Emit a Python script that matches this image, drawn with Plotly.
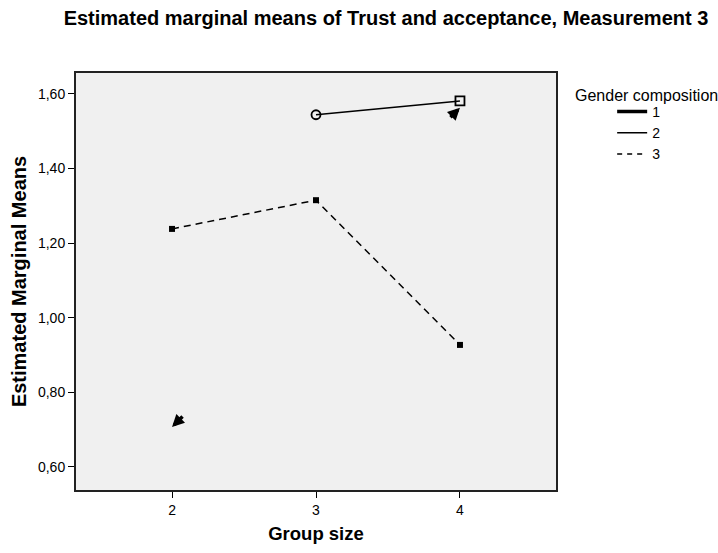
import plotly.graph_objects as go

group_size = [2, 3, 4]
gender_labels = ["1", "2", "3"]
means_1 = [0.707, None, 1.563]
means_2 = [None, 1.544, 1.581]
means_3 = [1.238, 1.315, 0.927]

fig = go.Figure()

fig.add_trace(go.Scatter(
    x=group_size, y=means_2, mode="lines+markers", showlegend=False,
    line=dict(color="black", width=1.5),
    marker=dict(symbol=["circle-open", "circle-open", "square-open"], size=9,
                color="black", line=dict(width=1.8))
))
fig.add_trace(go.Scatter(
    x=group_size, y=means_3, mode="lines+markers", showlegend=False,
    line=dict(color="black", width=1.5, dash="7px,5px"),
    marker=dict(symbol="square", size=6, color="black")
))

# group 1 has no neighbouring point, SPSS leaves an arrow-like stub
tail_dirs = [(12, -12), None, (-11, 11)]
stubs = []
for gx, gy, d in zip(group_size, means_1, tail_dirs):
    if gy is None:
        continue
    stubs.append(dict(x=gx, y=gy, xref="x", yref="y", ax=d[0], ay=d[1],
                      text="", showarrow=True, arrowhead=2, arrowsize=0.7,
                      arrowwidth=3.5, arrowcolor="black"))

# legend entries: line samples only
widths = [3.5, 1.5, 1.5]
dashes = ["solid", "solid", "5px,5px"]
for lab, w, d in zip(gender_labels, widths, dashes):
    fig.add_trace(go.Scatter(
        x=[None], y=[None], mode="lines", name=lab,
        line=dict(color="black", width=w, dash=d)
    ))

fig.update_layout(
    width=718, height=553,
    margin=dict(l=76, r=162, t=73, b=63),
    paper_bgcolor="white", plot_bgcolor="#f0f0f0",
    separators=",.",
    font=dict(family="Liberation Sans, Arial", color="black", size=14),
    title=dict(text="<b>Estimated marginal means of Trust and acceptance, Measurement 3</b>",
               x=0.5376, xanchor="center", y=0.967, yanchor="middle",
               font=dict(size=20)),
    legend=dict(x=1.117, xanchor="left", y=0.945, yanchor="top",
                bgcolor="rgba(0,0,0,0)", tracegroupgap=0,
                font=dict(size=14), itemwidth=30),
    annotations=stubs + [dict(text="Gender composition", xref="paper", yref="paper",
                              x=1.035, y=0.947, xanchor="left", yanchor="middle",
                              showarrow=False, font=dict(size=16))]
)
fig.update_xaxes(
    range=[1.333, 4.667], tickvals=group_size, ticks="outside", ticklen=6,
    tickcolor="black", automargin=False,
    showgrid=False, zeroline=False, showline=True, linecolor="#222222",
    linewidth=2, mirror=True, tickfont=dict(size=14),
    title=dict(text="<b>Group size</b>", font=dict(size=18.5), standoff=10)
)
fig.update_yaxes(
    range=[0.538, 1.656], tickvals=[0.6, 0.8, 1.0, 1.2, 1.4, 1.6],
    tickformat=".2f", ticks="outside", ticklen=6, tickcolor="black",
    automargin=False,
    showgrid=False, zeroline=False, showline=True, linecolor="#222222",
    linewidth=2, mirror=True, tickfont=dict(size=14),
    title=dict(text="<b>Estimated Marginal Means</b>", font=dict(size=20), standoff=6)
)

fig.write_html("out.html", config={"displayModeBar": False},
               post_script="document.body.style.margin='0';")
